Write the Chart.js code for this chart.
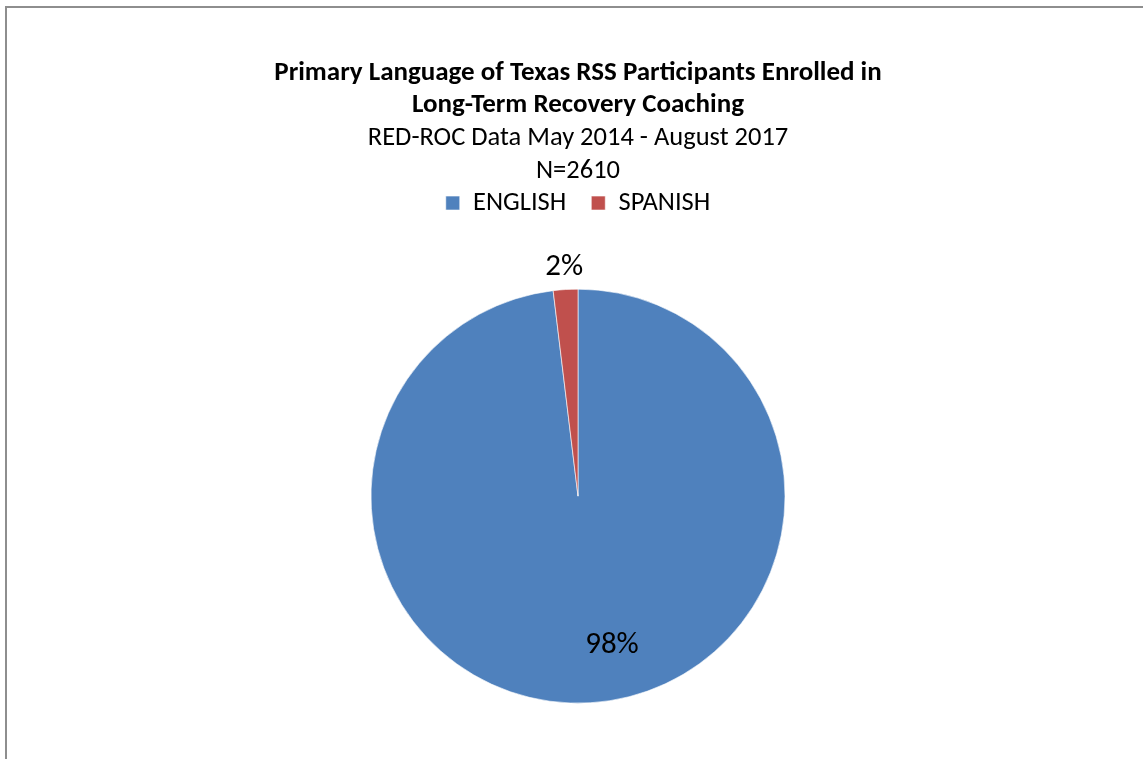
<!DOCTYPE html>
<html>
<head>
<meta charset="utf-8">
<script src="https://cdn.jsdelivr.net/npm/chart.js@4.4.0/dist/chart.umd.min.js"></script>
<style>
  html, body { margin: 0; padding: 0; background: #fff; overflow: hidden; }
  #frame {
    position: absolute; left: 5px; top: 6px;
    width: 1146px; height: 900px;
    border-left: 2px solid #8e8e8e; border-top: 2px solid #8e8e8e;
  }
  #wrap { position: absolute; left: 0; top: 0; width: 1142px; height: 850px; }
</style>
</head>
<body>
<div id="frame"><div id="wrap"><canvas id="langChart"></canvas></div></div>
<script>
"use strict"

// data
const languages = ["ENGLISH", "SPANISH"]
const participants = [2560, 50]
const percentLabels = ["98%", "2%"]

const fontFamily = "Carlito, Calibri, 'Open Sans', sans-serif"
const canvas = document.getElementById("langChart")

// percent labels: big slice inside, small slice outside
const sliceLabels = {
  id: "sliceLabels",
  afterDatasetsDraw(chart) {
    const ctx = chart.ctx
    const arcs = chart.getDatasetMeta(0).data
    ctx.save()
    ctx.font = "31px " + fontFamily
    ctx.fillStyle = "#000"
    ctx.textAlign = "center"
    ctx.textBaseline = "middle"
    arcs.forEach((arc, i) => {
      const mid = (arc.startAngle + arc.endAngle) / 2
      const share = (arc.endAngle - arc.startAngle) / (2 * Math.PI)
      const dist = share > 0.1 ? arc.outerRadius * 0.72 : arc.outerRadius * 1.11
      const shift = share > 0.1 ? 25 : 0
      const x = arc.x + Math.cos(mid) * dist + shift
      const y = arc.y + Math.sin(mid) * dist
      ctx.fillText(percentLabels[i], x, y)
    })
    ctx.restore()
  },
}

new Chart(canvas, {
  type: "pie",
  data: {
    labels: languages,
    datasets: [
      {
        data: participants,
        backgroundColor: ["#4F81BD", "#C0504D"],
        borderColor: "rgba(255,255,255,0.6)",
        borderWidth: 1,
        radius: 207,
      },
    ],
  },
  options: {
    responsive: true,
    maintainAspectRatio: false,
    animation: { duration: 0 },
    layout: { padding: { top: 0, bottom: 92, left: 0, right: 0 } },
    plugins: {
      title: {
        display: true,
        text: ["Primary Language of Texas RSS Participants Enrolled in", "Long-Term Recovery Coaching"],
        color: "#000",
        font: { family: fontFamily, size: 27, weight: "bold", lineHeight: 1.2 },
        padding: { top: 49, bottom: 0 },
      },
      subtitle: {
        display: true,
        text: ["RED-ROC Data May 2014 - August 2017", "N=2610"],
        color: "#000",
        font: { family: fontFamily, size: 26.5, lineHeight: 1.245 },
        padding: { top: 0, bottom: -23 },
      },
      legend: {
        position: "top",
        labels: {
          color: "#000",
          font: { family: fontFamily, size: 26.5 },
          boxWidth: 14,
          boxHeight: 14,
          padding: 25,
        },
      },
      tooltip: { enabled: false },
    },
  },
  plugins: [sliceLabels],
})
</script>
</body>
</html>
